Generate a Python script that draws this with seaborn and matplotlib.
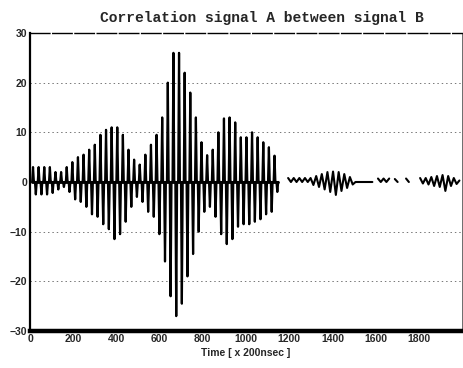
import numpy as np
import pandas as pd
import matplotlib
matplotlib.use("Agg")
import matplotlib.pyplot as plt
import seaborn as sns

# Correlation of signal A with signal B: successive positive / negative extremes
main_peaks = [3, 3, 3, 3, 2, 2, 3, 4, 5, 5.5, 6.5, 7.5, 9.5, 10.5, 11, 11,
              9.5, 6.5, 4.5, 3.5, 5.5, 7.5, 9.5, 13, 20, 26, 26, 22, 18, 13,
              8, 5.4, 6.5, 10, 12.8, 13, 12, 9, 9, 10, 9, 8, 7, 5.3]
main_troughs = [-2.5, -2.5, -2.5, -2.2, -1.5, -1, -2, -3.5, -4, -5, -6.5, -7,
                -8.5, -9.5, -11.5, -10.5, -8, -5, -3, -4, -6, -7, -10.5, -16,
                -23, -27, -24.5, -19, -14.5, -10, -6, -5, -7, -10.5, -12.5,
                -11.5, -9, -8.5, -8.5, -8, -7.5, -6.5, -6, -2]
main_start = 14        # time of the first extreme  [x 200 nsec]
half_period = 13       # spacing between successive extremes  [x 200 nsec]
spike_half_width = 4   # half base width of each correlation spike

# weak residual correlation after the main lobe (None = nothing drawn)
tail_start = 1195
tail_values = [0.8, 0, 0.8, 0, 0.8, 0, 0.8, 0, 0.8,
               -0.6, 1.2, -1.0, 1.6, -1.5, 2.0, -2.0, 2.1, -2.6, 2.0, -1.8,
               1.6, -1.2, 1.0, -0.5,
               0, 0, 0, 0, 0, 0, 0,
               None,
               0.7, 0, 0.7, 0, 0.7,
               None,
               0.6, 0,
               None, None,
               0.7, 0,
               None, None, None,
               0.8, -0.3, 0.8, -0.5, 1.0, -0.8, 1.2, -1.0, 1.4, -1.8, 1.2,
               -0.8, 0.8, -0.4, 0.3]

x_ticks = [0, 200, 400, 600, 800, 1000, 1200, 1400, 1600, 1800]
y_ticks = [-30, -20, -10, 0, 10, 20, 30]
grid_levels = [-20, -10, 10, 20]

title = "Correlation signal A between signal B"
x_label = "Time [ x 200nsec ]"

# ---- tidy tables -------------------------------------------------------
extremes = np.column_stack([main_peaks, main_troughs]).ravel()
t_ext = main_start + half_period * np.arange(len(extremes))
# each extreme is drawn as a narrow spike rising from and returning to zero
spike_t = np.column_stack([t_ext - spike_half_width, t_ext,
                           t_ext + spike_half_width]).ravel()
spike_v = np.column_stack([np.zeros_like(extremes), extremes,
                           np.zeros_like(extremes)]).ravel()
main_df = pd.DataFrame({"time": spike_t, "corr": spike_v})

tail = np.array([np.nan if v is None else v for v in tail_values], dtype=float)
tail_df = pd.DataFrame({
    "time": tail_start + half_period * np.arange(len(tail)),
    "corr": tail,
})
tail_df["segment"] = tail_df["corr"].isna().cumsum()
tail_df = tail_df.dropna()

# ---- figure ------------------------------------------------------------
sns.set_style("white")
plt.rcParams["font.family"] = ["Liberation Sans", "DejaVu Sans"]

fig = plt.figure(figsize=(4.64, 3.68), dpi=100)
ax = fig.add_axes([30 / 464, 37 / 368, 432 / 464, 298 / 368])

for lvl in grid_levels:
    ax.axhline(lvl, color="#777777", lw=0.7, ls=(0, (1.5, 3)), zorder=0)

# dense baseline under the main lobe
ax.plot([main_df["time"].iloc[0], main_df["time"].iloc[-1]], [0, 0],
        color="black", lw=2.0, zorder=2)

sns.lineplot(data=main_df, x="time", y="corr", ax=ax, color="black",
             lw=1.6, sort=False, estimator=None, zorder=3)
sns.lineplot(data=tail_df, x="time", y="corr", units="segment", ax=ax,
             color="black", lw=1.5, sort=False, estimator=None, zorder=3)

ax.set_xlim(0, 2000)
ax.set_ylim(-30, 30)
ax.set_xticks(x_ticks)
ax.set_yticks(y_ticks)
ax.tick_params(axis="both", length=0, pad=2, labelsize=7.5)
for lab in ax.get_xticklabels() + ax.get_yticklabels():
    lab.set_fontweight("bold")

ax.set_xlabel(x_label, fontsize=7.5, fontweight="bold", labelpad=3)
ax.set_ylabel("")

ax.spines["left"].set_linewidth(1.6)
ax.spines["bottom"].set_linewidth(3.2)
ax.spines["top"].set_linewidth(1.0)
ax.spines["top"].set_linestyle((0, (14, 2)))
ax.spines["right"].set_linewidth(0.6)
ax.spines["right"].set_color("#555555")
for name, s in ax.spines.items():
    if name != "right":
        s.set_color("black")

fig.text(262 / 464, 1 - 18 / 368, title, ha="center", va="center",
         family=["Liberation Mono", "DejaVu Sans Mono"], fontsize=10.5,
         fontweight="bold")

fig.savefig("out.png", dpi=100, facecolor="white")
